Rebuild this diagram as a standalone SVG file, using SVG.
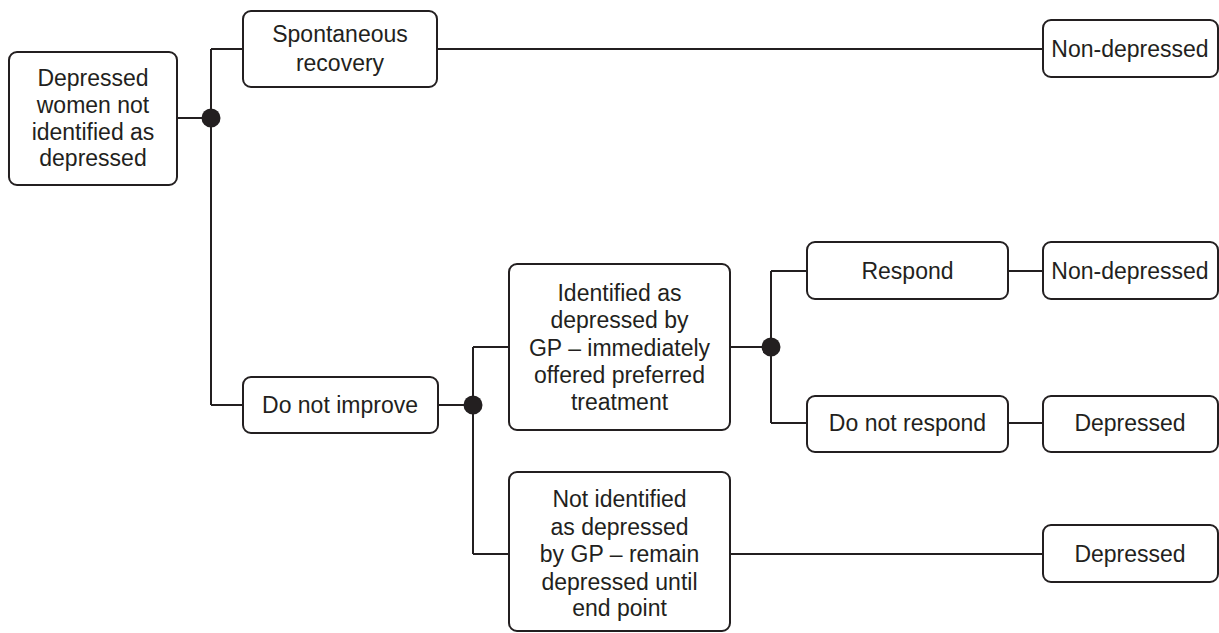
<svg xmlns="http://www.w3.org/2000/svg" width="1219" height="633" viewBox="0 0 1219 633">
<style>
.box{fill:#fff;stroke:#231f20;stroke-width:2}
.ln{fill:none;stroke:#231f20;stroke-width:2}
.dot{fill:#231f20}
text{font-family:"Liberation Sans",Arial,sans-serif;font-size:23px;fill:#231f20;text-anchor:middle}
</style>
<rect width="1219" height="633" fill="#fff"/>
<g id="connectors">
<path class="ln" d="M177,118 H211 M211,49 V405 M211,49 H243 M211,405 H243"/>
<path class="ln" d="M437,49 H1043"/>
<path class="ln" d="M438,405 H473 M473,347 V554 M473,347 H509 M473,554 H509"/>
<path class="ln" d="M730,347 H771 M771,271 V423 M771,271 H807 M771,423 H807"/>
<path class="ln" d="M1008,271 H1043 M1008,423 H1043 M730,554 H1043"/>
<circle class="dot" cx="211" cy="118" r="9.5"/>
<circle class="dot" cx="473" cy="405" r="9.5"/>
<circle class="dot" cx="771" cy="347" r="9.5"/>
</g>
<g id="n1"><rect class="box" x="9" y="52" width="168" height="133" rx="8"/>
<text x="93" y="86">Depressed</text><text x="93" y="113">women not</text><text x="93" y="140">identified as</text><text x="93" y="166">depressed</text></g>
<g id="n2"><rect class="box" x="243" y="11" width="194" height="76" rx="8"/>
<text x="340" y="42">Spontaneous</text><text x="340" y="71">recovery</text></g>
<g id="n3"><rect class="box" x="1043" y="20" width="175" height="57" rx="8"/>
<text x="1130" y="57">Non-depressed</text></g>
<g id="n4"><rect class="box" x="243" y="377" width="195" height="56" rx="8"/>
<text x="340" y="413">Do not improve</text></g>
<g id="n5"><rect class="box" x="509" y="264" width="221" height="166" rx="8"/>
<text x="619.5" y="301">Identified as</text><text x="619.5" y="328">depressed by</text><text x="619.5" y="356">GP – immediately</text><text x="619.5" y="383">offered preferred</text><text x="619.5" y="410">treatment</text></g>
<g id="n6"><rect class="box" x="807" y="242" width="201" height="57" rx="8"/>
<text x="907.5" y="279">Respond</text></g>
<g id="n7"><rect class="box" x="1043" y="242" width="175" height="57" rx="8"/>
<text x="1130" y="279">Non-depressed</text></g>
<g id="n8"><rect class="box" x="807" y="396" width="201" height="56" rx="8"/>
<text x="907.5" y="431">Do not respond</text></g>
<g id="n9"><rect class="box" x="1043" y="396" width="175" height="56" rx="8"/>
<text x="1130" y="431">Depressed</text></g>
<g id="n10"><rect class="box" x="509" y="472" width="221" height="159" rx="8"/>
<text x="619.5" y="507">Not identified</text><text x="619.5" y="535">as depressed</text><text x="619.5" y="562">by GP – remain</text><text x="619.5" y="590">depressed until</text><text x="619.5" y="616">end point</text></g>
<g id="n11"><rect class="box" x="1043" y="525" width="175" height="57" rx="8"/>
<text x="1130" y="562">Depressed</text></g>
</svg>
